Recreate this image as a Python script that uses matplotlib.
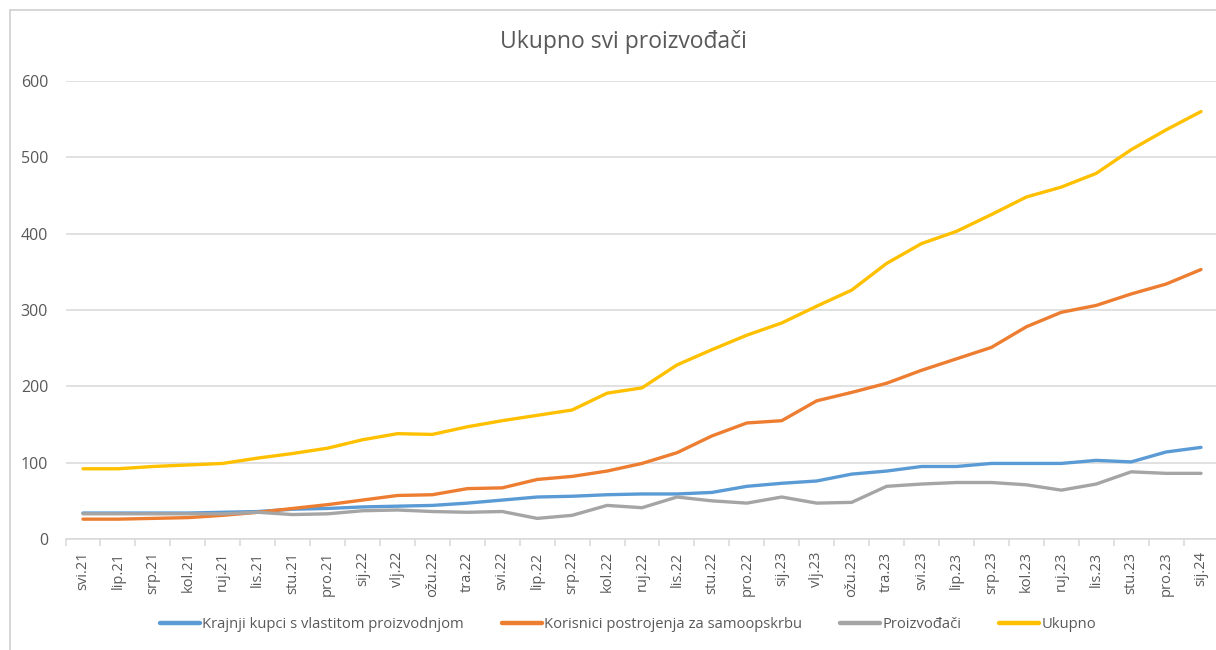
import matplotlib
matplotlib.use("Agg")
import matplotlib.pyplot as plt
from matplotlib.patches import Rectangle
import numpy as np

plt.rcParams['font.family'] = ['Open Sans', 'DejaVu Sans']

# mjeseci svi.21 - sij.24
months = ["svi.21", "lip.21", "srp.21", "kol.21", "ruj.21", "lis.21", "stu.21", "pro.21",
          "sij.22", "vlj.22", "ožu.22", "tra.22", "svi.22", "lip.22", "srp.22", "kol.22",
          "ruj.22", "lis.22", "stu.22", "pro.22", "sij.23", "vlj.23", "ožu.23", "tra.23",
          "svi.23", "lip.23", "srp.23", "kol.23", "ruj.23", "lis.23", "stu.23", "pro.23",
          "sij.24"]

krajnji_kupci = [34, 34, 34, 34, 35, 36, 39, 40, 42, 43, 44, 47, 51, 55, 56, 58,
                 59, 59, 61, 69, 73, 76, 85, 89, 95, 95, 99, 99, 99, 103, 101, 114, 120]
korisnici = [26, 26, 27, 28, 31, 35, 40, 45, 51, 57, 58, 66, 67, 78, 82, 89,
             99, 113, 135, 152, 155, 181, 192, 204, 221, 236, 251, 278, 297, 306, 321, 334, 353]
proizvodjaci = [33, 33, 33, 33, 33, 35, 32, 33, 37, 38, 36, 35, 36, 27, 31, 44,
                41, 55, 50, 47, 55, 47, 48, 69, 72, 74, 74, 71, 64, 72, 88, 86, 86]
ukupno = [92, 92, 95, 97, 99, 106, 112, 119, 130, 138, 137, 147, 155, 162, 169, 191,
          198, 228, 248, 267, 283, 305, 326, 361, 387, 403, 425, 448, 461, 479, 510, 536, 560]

series = [
    ("Krajnji kupci s vlastitom proizvodnjom", krajnji_kupci, "#5B9BD5"),
    ("Korisnici postrojenja za samoopskrbu", korisnici, "#ED7D31"),
    ("Proizvođači", proizvodjaci, "#A5A5A5"),
    ("Ukupno", ukupno, "#FFC000"),
]

txt = "#595959"
grid_c = "#D9D9D9"

fig = plt.figure(figsize=(12.16, 6.5), dpi=100)
fig.patches.append(Rectangle((10 / 1216, -0.1), 1.2, 1 - 10 / 650 + 0.1, transform=fig.transFigure,
                             fill=False, edgecolor="#D0D0D0", linewidth=1.2))

ax = fig.add_axes([65.5 / 1216, 111 / 650, 1153 / 1216, 458 / 650])
x = np.arange(len(months))
for name, vals, col in series:
    ax.plot(x, vals, color=col, linewidth=2.4, label=name, solid_capstyle="round")

ax.set_xlim(-0.5, len(months) - 0.5)
ax.set_ylim(0, 600)
ax.set_yticks(range(0, 601, 100))
ax.yaxis.grid(True, color=grid_c, linewidth=1.1)
ax.set_axisbelow(True)
for s in ["top", "right", "left"]:
    ax.spines[s].set_visible(False)
ax.spines["bottom"].set_color(grid_c)
ax.spines["bottom"].set_linewidth(1.1)

ax.set_xticks(x)
ax.set_xticklabels(months, rotation=90, fontsize=10.5, color=txt)
ax.set_xticks(np.arange(-0.5, len(months), 1), minor=True)
ax.tick_params(axis="x", which="major", length=0, pad=9)
ax.tick_params(axis="x", which="minor", length=5, color=grid_c, width=1.1)
ax.tick_params(axis="y", length=0, labelsize=11.5, labelcolor=txt, pad=12.5)

fig.text(0.513, 1 - 42 / 650, "Ukupno svi proizvođači", ha="center", va="center",
         fontsize=16.5, color=txt)

leg = fig.legend(loc="center", bbox_to_anchor=(628 / 1216, 1 - 625 / 650), ncol=4, frameon=False,
                 fontsize=10.6, labelcolor=txt, handlelength=2.7, handletextpad=0.15,
                 columnspacing=2.6)
for h in leg.get_lines():
    h.set_linewidth(3.2)

fig.savefig("out.png", dpi=100)
